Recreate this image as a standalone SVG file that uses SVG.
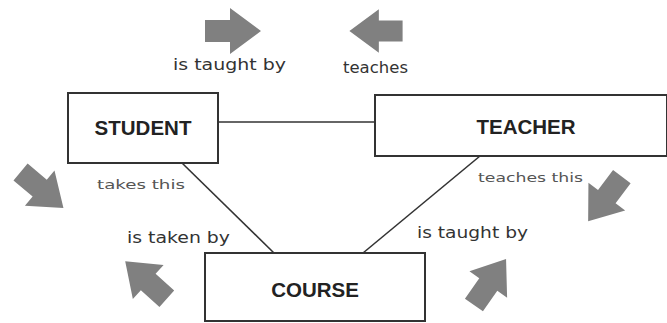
<svg xmlns="http://www.w3.org/2000/svg" width="667" height="323" viewBox="0 0 667 323">
<style>
.box{fill:#fff;stroke:#333;stroke-width:2}
.title{font-family:"Liberation Sans",Arial,sans-serif;font-weight:bold;font-size:20.5px;fill:#222;text-anchor:middle}
.hand{font-family:"DejaVu Sans",sans-serif;font-size:15px;fill:#333}
.hand2{font-family:"DejaVu Sans",sans-serif;font-size:13px;fill:#555}
.arrow{fill:#808080}
.conn{stroke:#333;stroke-width:1.6;fill:none}
</style>
<defs>
<path id="arr" d="M-28,-11 L-3,-11 L-3,-23 L28,0 L-3,23 L-3,11 L-28,11 Z"/>
</defs>
<rect width="667" height="323" fill="#fff"/>
<g id="connectors">
<line class="conn" x1="218" y1="122" x2="375" y2="122"/>
<line class="conn" x1="182" y1="163" x2="274" y2="253"/>
<line class="conn" x1="480" y1="156" x2="363" y2="253"/>
</g>
<g id="student">
<rect class="box" x="68" y="93" width="150" height="70"/>
<text class="title" x="143" y="135">STUDENT</text>
</g>
<g id="teacher">
<rect class="box" x="375" y="95" width="292" height="61"/>
<text class="title" x="526" y="134">TEACHER</text>
</g>
<g id="course">
<rect class="box" x="205" y="253" width="220" height="68"/>
<text class="title" x="315" y="297">COURSE</text>
</g>
<g id="labels">
<text class="hand" x="173" y="70" textLength="113" lengthAdjust="spacingAndGlyphs">is taught by</text>
<text class="hand" x="343" y="73" textLength="65" lengthAdjust="spacingAndGlyphs">teaches</text>
<text class="hand2" x="97" y="189" textLength="88" lengthAdjust="spacingAndGlyphs">takes this</text>
<text class="hand2" x="478" y="182" textLength="105" lengthAdjust="spacingAndGlyphs">teaches this</text>
<text class="hand" x="127" y="243" textLength="103" lengthAdjust="spacingAndGlyphs">is taken by</text>
<text class="hand" x="417" y="238" textLength="111" lengthAdjust="spacingAndGlyphs">is taught by</text>
</g>
<g id="arrows">
<use href="#arr" class="arrow" transform="translate(233,31)"/>
<use href="#arr" class="arrow" transform="translate(376,31) rotate(180) scale(0.95)"/>
<use href="#arr" class="arrow" transform="translate(42,190) rotate(40)"/>
<use href="#arr" class="arrow" transform="translate(605,199) rotate(127)"/>
<use href="#arr" class="arrow" transform="translate(146,280) rotate(-138)"/>
<use href="#arr" class="arrow" transform="translate(490,282) rotate(-55)"/>
</g>
</svg>
